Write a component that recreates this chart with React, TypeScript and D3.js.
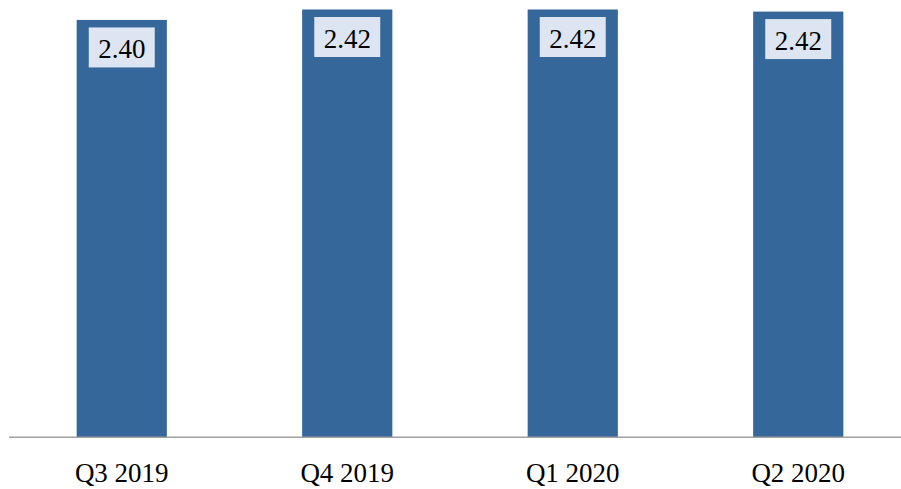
import React from "react";
import * as d3 from "d3";

const categories = ["Q3 2019", "Q4 2019", "Q1 2020", "Q2 2020"];
const values = [2.4, 2.42, 2.42, 2.416];

const W = 901;
const H = 489;

export default function App() {
  const x = d3.scaleBand<string>().domain(categories).range([9, 911]).paddingInner(0.6).paddingOuter(0.3);
  const y = d3.scaleLinear().domain([1.6, 2.42]).range([437, 9.5]);
  const bw = x.bandwidth();
  const font = "'Liberation Serif', 'Times New Roman', serif";
  return (
    <svg width={W} height={H} style={{ position: "absolute", left: 0, top: 0, background: "#fff" }}>
      {categories.map((c, i) => {
        const x0 = x(c)!;
        const cx = x0 + bw / 2;
        const top = y(values[i]);
        return (
          <g key={c}>
            <rect x={x0} y={top} width={bw} height={y.range()[0] - top} fill="#35679a" />
            <rect x={cx - 33} y={top + 7.5} width={66} height={40} fill="#dce5f1" />
            <text x={cx} y={top + 38} textAnchor="middle" fontFamily={font} fontSize={27} fill="#000">
              {(Math.round(values[i] * 100) / 100).toFixed(2)}
            </text>
            <text x={cx} y={481.5} textAnchor="middle" fontFamily={font} fontSize={27} fill="#000">
              {c}
            </text>
          </g>
        );
      })}
      <line x1={9} x2={W} y1={437.3} y2={437.3} stroke="#a0a0a0" strokeWidth={1.5} />
    </svg>
  );
}
